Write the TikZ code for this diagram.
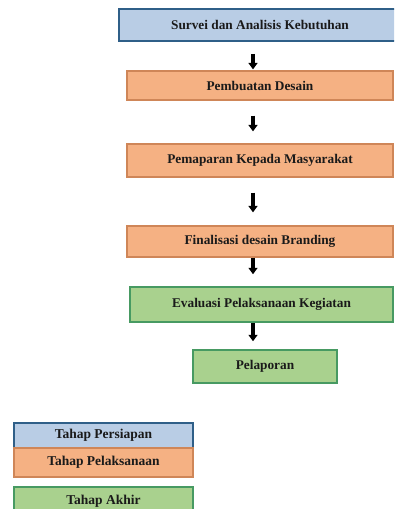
\documentclass[tikz,border=0pt]{standalone}
\usepackage{fontspec}
\setmainfont{Liberation Serif}
\usetikzlibrary{arrows.meta,calc}
\definecolor{bfill}{HTML}{B9CDE5}
\definecolor{bline}{HTML}{2F5F88}
\definecolor{ofill}{HTML}{F5B183}
\definecolor{oline}{HTML}{CF8658}
\definecolor{gfill}{HTML}{A9D18E}
\definecolor{gline}{HTML}{479A62}
\definecolor{txt}{HTML}{1A1A1A}
\begin{document}
\begin{tikzpicture}[x=1pt,y=-1pt,
  box/.style={rectangle, inner sep=0pt, text=txt, font=\bfseries\fontsize{13.3}{15}\selectfont},
  bluebox/.style={box, fill=bfill, draw=bline, line width=1.8pt},
  orangebox/.style={box, fill=ofill, draw=oline, line width=1.3pt},
  greenbox/.style={box, fill=gfill, draw=gline, line width=1.5pt},
  legend/.style={font=\bfseries\fontsize{13.5}{15}\selectfont},
  arr/.style={-{Triangle[width=9pt,length=6.5pt]}, line width=3.2pt, black}]
\clip (0,0) rectangle (394,509);
\fill[white] (0,0) rectangle (394,509);
% main flow
\node[bluebox, minimum width=282pt, minimum height=32pt] (b1) at (260,25) {Survei dan Analisis Kebutuhan};
\node[orangebox, minimum width=266pt, minimum height=29pt] (b2) at (260,85.5) {Pembuatan Desain};
\node[orangebox, minimum width=266pt, minimum height=33pt] (b3) at (260,160.5) {Pemaparan Kepada Masyarakat};
\node[orangebox, minimum width=266pt, minimum height=31pt] (b4) at (260,241.5) {Finalisasi desain Branding};
\node[greenbox, minimum width=263pt, minimum height=35pt] (b5) at (261.5,304.5) {Evaluasi Pelaksanaan Kegiatan};
\node[greenbox, minimum width=144pt, minimum height=33pt] (b6) at (265,366.5) {Pelaporan};
% arrows
\coordinate (ax) at (253,0);
\draw[arr, shorten <=12pt, shorten >=1pt] (b1.south -| ax) -- (b2.north -| ax);
\draw[arr, shorten <=15pt, shorten >=12pt] (b2.south -| ax) -- (b3.north -| ax);
\draw[arr, shorten <=15pt, shorten >=13pt] (b3.south -| ax) -- (b4.north -| ax);
\draw[arr, shorten <=0pt, shorten >=12pt] (b4.south -| ax) -- (b5.north -| ax);
\draw[arr, shorten <=0pt, shorten >=8pt] (b5.south -| ax) -- (b6.north -| ax);
% legend
\node[bluebox, legend, minimum width=179pt, minimum height=25pt] (l1) at (103.5,435.5) {Tahap Persiapan};
\node[orangebox, legend, minimum width=179pt, minimum height=29pt] (l2) at (103.5,462.5) {Tahap Pelaksanaan};
\node[greenbox, legend, minimum width=179pt, minimum height=28pt] (l3) at (103.5,501) {Tahap Akhir};
\end{tikzpicture}
\end{document}
